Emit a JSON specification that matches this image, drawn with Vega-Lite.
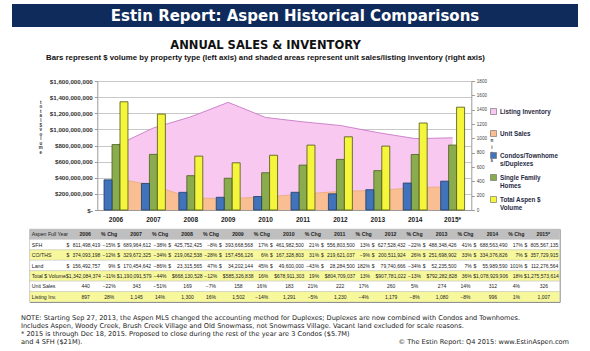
{
  "$schema": "https://vega.github.io/schema/vega-lite/v6.json",
  "background": "white",
  "padding": {"left": 12, "top": 4, "right": 12, "bottom": 2},
  "config": {"view": {"stroke": null}, "font": "Liberation Sans", "axis": {"labelFont": "Liberation Sans", "titleFont": "Liberation Sans"}},
  "datasets": {
    "aspen": [
      {"year": "2006", "metric": "sfh", "value": 811498419, "chg": null},
      {"year": "2007", "metric": "sfh", "value": 689964612, "chg": -0.15},
      {"year": "2008", "metric": "sfh", "value": 425752425, "chg": -0.38},
      {"year": "2009", "metric": "sfh", "value": 393668568, "chg": -0.08},
      {"year": "2010", "metric": "sfh", "value": 461982500, "chg": 0.17},
      {"year": "2011", "metric": "sfh", "value": 556803500, "chg": 0.21},
      {"year": "2012", "metric": "sfh", "value": 627528432, "chg": 0.13},
      {"year": "2013", "metric": "sfh", "value": 488348426, "chg": -0.22},
      {"year": "2014", "metric": "sfh", "value": 688563490, "chg": 0.41},
      {"year": "2015*", "metric": "sfh", "value": 805567135, "chg": 0.17},
      {"year": "2006", "metric": "condo", "value": 374093198, "chg": null},
      {"year": "2007", "metric": "condo", "value": 329672325, "chg": -0.12},
      {"year": "2008", "metric": "condo", "value": 219062538, "chg": -0.34},
      {"year": "2009", "metric": "condo", "value": 157456126, "chg": -0.28},
      {"year": "2010", "metric": "condo", "value": 167328803, "chg": 0.06},
      {"year": "2011", "metric": "condo", "value": 219621037, "chg": 0.31},
      {"year": "2012", "metric": "condo", "value": 200511924, "chg": -0.09},
      {"year": "2013", "metric": "condo", "value": 251698902, "chg": 0.26},
      {"year": "2014", "metric": "condo", "value": 334376826, "chg": 0.33},
      {"year": "2015*", "metric": "condo", "value": 357729915, "chg": 0.07},
      {"year": "2006", "metric": "land", "value": 156492757, "chg": null},
      {"year": "2007", "metric": "land", "value": 170454642, "chg": 0.09},
      {"year": "2008", "metric": "land", "value": 23315565, "chg": -0.86},
      {"year": "2009", "metric": "land", "value": 34202144, "chg": 0.47},
      {"year": "2010", "metric": "land", "value": 49600000, "chg": 0.45},
      {"year": "2011", "metric": "land", "value": 28284500, "chg": -0.43},
      {"year": "2012", "metric": "land", "value": 79740666, "chg": 1.82},
      {"year": "2013", "metric": "land", "value": 52235500, "chg": -0.34},
      {"year": "2014", "metric": "land", "value": 55989590, "chg": 0.07},
      {"year": "2015*", "metric": "land", "value": 112276564, "chg": 1.01},
      {"year": "2006", "metric": "total", "value": 1342084374, "chg": null},
      {"year": "2007", "metric": "total", "value": 1190091579, "chg": -0.11},
      {"year": "2008", "metric": "total", "value": 668130528, "chg": -0.44},
      {"year": "2009", "metric": "total", "value": 585326838, "chg": -0.12},
      {"year": "2010", "metric": "total", "value": 678911303, "chg": 0.16},
      {"year": "2011", "metric": "total", "value": 804709037, "chg": 0.19},
      {"year": "2012", "metric": "total", "value": 907781022, "chg": 0.13},
      {"year": "2013", "metric": "total", "value": 792282828, "chg": -0.13},
      {"year": "2014", "metric": "total", "value": 1078929906, "chg": 0.36},
      {"year": "2015*", "metric": "total", "value": 1275573614, "chg": 0.18},
      {"year": "2006", "metric": "units", "value": 440, "chg": null},
      {"year": "2007", "metric": "units", "value": 343, "chg": -0.22},
      {"year": "2008", "metric": "units", "value": 169, "chg": -0.51},
      {"year": "2009", "metric": "units", "value": 158, "chg": -0.07},
      {"year": "2010", "metric": "units", "value": 183, "chg": 0.16},
      {"year": "2011", "metric": "units", "value": 222, "chg": 0.21},
      {"year": "2012", "metric": "units", "value": 260, "chg": 0.17},
      {"year": "2013", "metric": "units", "value": 274, "chg": 0.05},
      {"year": "2014", "metric": "units", "value": 312, "chg": 0.14},
      {"year": "2015*", "metric": "units", "value": 326, "chg": 0.04},
      {"year": "2006", "metric": "listings", "value": 897, "chg": null},
      {"year": "2007", "metric": "listings", "value": 1145, "chg": 0.28},
      {"year": "2008", "metric": "listings", "value": 1300, "chg": 0.14},
      {"year": "2009", "metric": "listings", "value": 1502, "chg": 0.16},
      {"year": "2010", "metric": "listings", "value": 1291, "chg": -0.14},
      {"year": "2011", "metric": "listings", "value": 1230, "chg": -0.05},
      {"year": "2012", "metric": "listings", "value": 1179, "chg": -0.04},
      {"year": "2013", "metric": "listings", "value": 1080, "chg": -0.08},
      {"year": "2014", "metric": "listings", "value": 996, "chg": -0.08},
      {"year": "2015*", "metric": "listings", "value": 1007, "chg": 0.01}
    ],
    "rows": [
      {"metric": "hdr", "label": "Aspen Full Year"},
      {"metric": "sfh", "label": "SFH"},
      {"metric": "condo", "label": "CO/THS"},
      {"metric": "land", "label": "Land"},
      {"metric": "total", "label": "Total $ Volume"},
      {"metric": "units", "label": "Unit Sales"},
      {"metric": "listings", "label": "Listing Inv."}
    ],
    "notes": [
      {"line": 1, "side": "left", "text": "NOTE: Starting Sep 27, 2013, the Aspen MLS changed the accounting method for Duplexes; Duplexes are now combined with Condos and Townhomes."},
      {"line": 2, "side": "left", "text": "Includes Aspen, Woody Creek, Brush Creek Village and Old Snowmass, not Snowmass Village. Vacant land excluded for scale reasons."},
      {"line": 3, "side": "left", "text": "*  2015 is through Dec 18, 2015. Proposed to close during the rest of the year are 3 Condos ($5.7M)"},
      {"line": 4, "side": "left", "text": "and 4 SFH ($21M)."},
      {"line": 4, "side": "right", "text": "© The Estin Report: Q4 2015: www.EstinAspen.com"}
    ]
  },
  "spacing": 12,
  "center": true,
  "vconcat": [
    {
      "width": 566,
      "height": 23,
      "data": {"values": [{"label": "Estin Report: Aspen Historical Comparisons"}]},
      "layer": [
        {"mark": {"type": "rect", "color": "#0f2b5c"}, "encoding": {}},
        {"mark": {"type": "text", "color": "white", "font": "DejaVu Sans", "fontSize": 15, "fontWeight": "bold", "align": "center", "baseline": "middle"}, "encoding": {"text": {"field": "label"}}}
      ]
    },
    {
      "spacing": 5,
      "center": true,
      "vconcat": [
        {
          "width": 374,
          "height": 129,
          "data": {"name": "aspen"},
          "title": {
            "text": "ANNUAL SALES & INVENTORY",
            "subtitle": "Bars represent $ volume by property type (left axis) and shaded areas represent unit sales/listing inventory (right axis)",
            "font": "DejaVu Sans", "fontSize": 11.5, "fontWeight": "bold", "color": "#111",
            "subtitleFont": "Liberation Sans", "subtitleFontSize": 7.8, "subtitleFontWeight": "bold", "subtitleColor": "#111",
            "subtitlePadding": 3, "offset": 16, "anchor": "middle", "frame": "bounds"
          },
          "layer": [
            {
              "encoding": {
                "x": {"field": "year", "type": "nominal", "sort": null, "title": null, "bandPosition": 0.5, "scale": {"paddingInner": 0.36, "paddingOuter": 0.18},
                  "axis": {"title": null, "labelAngle": 0, "labelFontSize": 6.5, "labelFontWeight": "bold", "labelColor": "#222", "labelPadding": 6, "ticks": false, "domainColor": "#9a9a9a"}},
                "y": {"field": "value", "type": "quantitative", "stack": null, "scale": {"domain": [0, 1800]},
                  "axis": {"orient": "right", "values": [0, 200, 400, 600, 800, 1000, 1200, 1400, 1600, 1800], "format": "d", "grid": false, "labelFontSize": 4.6, "labelColor": "#444", "tickSize": 3, "tickColor": "#9a9a9a", "domainColor": "#9a9a9a", "labelPadding": 2, "labelFlush": false, "labelOverlap": false,
                    "title": ["u", "n", "i", "t", "s"], "titleAngle": 0, "titleAlign": "center", "titleBaseline": "top", "titleX": 20, "titleY": 50, "titleFontSize": 4.6, "titleLineHeight": 6.5, "titleFontWeight": "bold", "titleColor": "#333"}}
              },
              "layer": [
                {
                  "transform": [{"filter": "datum.metric == 'listings'"}],
                  "mark": {"type": "area", "opacity": 1},
                  "encoding": {
                    "color": {"field": "metric", "type": "nominal",
                      "scale": {"domain": ["listings", "units", "condo", "sfh", "total"], "range": ["#f8c8f0", "#f9bf92", "#4173ba", "#8aac4f", "#f5f53c"]},
                      "legend": {"title": null, "orient": "none", "legendX": 478, "legendY": 104, "symbolType": "square", "symbolSize": 36, "symbolStrokeWidth": 0.6, "symbolStrokeColor": "#666", "labelFont": "Liberation Sans", "labelFontSize": 6.3, "labelFontWeight": "bold", "labelColor": "#1f2a44", "labelOffset": 3, "rowPadding": 5, "gridAlign": "all", "padding": 0, "labelLimit": 0,
                        "labelExpr": "datum.value == 'listings' ? 'Listing Inventory' : datum.value == 'units' ? 'Unit Sales' : datum.value == 'condo' ? ['Condos/Townhome', 's/Duplexes'] : datum.value == 'sfh' ? ['Single Family', 'Homes'] : ['Total Aspen $', 'Volume']"}}
                  }
                },
                {
                  "transform": [{"filter": "datum.metric == 'listings'"}],
                  "mark": {"type": "line", "color": "#c97ac6", "strokeWidth": 0.9}
                },
                {
                  "transform": [{"filter": "datum.metric == 'units'"}],
                  "mark": {"type": "area", "opacity": 1},
                  "encoding": {
                    "color": {"field": "metric", "type": "nominal",
                      "scale": {"domain": ["listings", "units", "condo", "sfh", "total"], "range": ["#f8c8f0", "#f9bf92", "#4173ba", "#8aac4f", "#f5f53c"]},
                      "legend": {"title": null, "orient": "none", "legendX": 478, "legendY": 104, "symbolType": "square", "symbolSize": 36, "symbolStrokeWidth": 0.6, "symbolStrokeColor": "#666", "labelFont": "Liberation Sans", "labelFontSize": 6.3, "labelFontWeight": "bold", "labelColor": "#1f2a44", "labelOffset": 3, "rowPadding": 5, "gridAlign": "all", "padding": 0, "labelLimit": 0,
                        "labelExpr": "datum.value == 'listings' ? 'Listing Inventory' : datum.value == 'units' ? 'Unit Sales' : datum.value == 'condo' ? ['Condos/Townhome', 's/Duplexes'] : datum.value == 'sfh' ? ['Single Family', 'Homes'] : ['Total Aspen $', 'Volume']"}}
                  }
                },
                {
                  "transform": [{"filter": "datum.metric == 'units'"}],
                  "mark": {"type": "line", "color": "#e9a879", "strokeWidth": 0.8}
                }
              ]
            },
            {
              "transform": [{"filter": "datum.metric == 'condo' || datum.metric == 'sfh' || datum.metric == 'total'"}],
              "mark": {"type": "bar", "strokeWidth": 0.8},
              "encoding": {
                "x": {"field": "year", "type": "nominal", "sort": null, "title": null, "scale": {"paddingInner": 0.36, "paddingOuter": 0.18},
                  "axis": {"title": null, "labelAngle": 0, "labelFontSize": 6.5, "labelFontWeight": "bold", "labelColor": "#222", "labelPadding": 6, "ticks": false, "domainColor": "#9a9a9a"}},
                "xOffset": {"field": "metric", "type": "nominal", "sort": ["condo", "sfh", "total"], "scale": {"domain": ["condo", "sfh", "total"], "paddingInner": 0, "paddingOuter": 0}},
                "y": {"field": "value", "type": "quantitative", "scale": {"domain": [0, 1600000000]},
                  "axis": {"orient": "left", "values": [0, 200000000, 400000000, 600000000, 800000000, 1000000000, 1200000000, 1400000000, 1600000000],
                    "labelExpr": "datum.value == 0 ? '$-' : '$' + format(datum.value, ',')",
                    "grid": true, "gridColor": "#c8c8c8", "gridWidth": 1, "domainColor": "#9a9a9a", "tickColor": "#9a9a9a", "tickSize": 3,
                    "labelFontSize": 6.2, "labelFontWeight": "bold", "labelColor": "#333", "labelPadding": 2, "labelFlush": false, "labelOverlap": false,
                    "title": ["t", "o", "t", "a", "l", "", "", "", "", "$", "", "", "v", "o", "l", "u", "m", "e"],
                    "titleAngle": 0, "titleAlign": "center", "titleBaseline": "top", "titleX": -57, "titleY": 18, "titleFontSize": 4.5, "titleLineHeight": 4.6, "titleFontWeight": "bold", "titleColor": "#333"}},
                "color": {"field": "metric", "type": "nominal",
                  "scale": {"domain": ["listings", "units", "condo", "sfh", "total"], "range": ["#f8c8f0", "#f9bf92", "#4173ba", "#8aac4f", "#f5f53c"]},
                  "legend": {"title": null, "orient": "none", "legendX": 478, "legendY": 104, "symbolType": "square", "symbolSize": 36, "symbolStrokeWidth": 0.6, "symbolStrokeColor": "#666", "labelFont": "Liberation Sans", "labelFontSize": 6.3, "labelFontWeight": "bold", "labelColor": "#1f2a44", "labelOffset": 3, "rowPadding": 5, "gridAlign": "all", "padding": 0, "labelLimit": 0,
                    "labelExpr": "datum.value == 'listings' ? 'Listing Inventory' : datum.value == 'units' ? 'Unit Sales' : datum.value == 'condo' ? ['Condos/Townhome', 's/Duplexes'] : datum.value == 'sfh' ? ['Single Family', 'Homes'] : ['Total Aspen $', 'Volume']"}},
                "stroke": {"field": "metric", "type": "nominal", "scale": {"domain": ["condo", "sfh", "total"], "range": ["#1f3b66", "#4a6020", "#4a5512"]}, "legend": null}
              }
            }
          ],
          "resolve": {"scale": {"y": "independent"}}
        },
        {
          "spacing": 11,
          "center": true,
          "vconcat": [
            {
              "width": 530,
              "height": 73,
              "data": {"name": "aspen"},
              "view": {"stroke": "#808080", "strokeWidth": 1},
              "layer": [
                {
                  "data": {"name": "rows"},
                  "mark": {"type": "rect", "stroke": "#c4c4c4", "strokeWidth": 0.5},
                  "encoding": {
                    "y": {"field": "metric", "type": "nominal", "scale": {"domain": ["hdr", "sfh", "condo", "land", "total", "units", "listings"], "paddingInner": 0, "paddingOuter": 0}, "axis": null},
                    "fill": {"condition": [
                      {"test": "datum.metric == 'hdr'", "value": "#bfbfbf"},
                      {"test": "datum.metric == 'condo' || datum.metric == 'total' || datum.metric == 'listings'", "value": "#f7f79c"}
                    ], "value": "#ffffff"}
                  }
                },
                {
                  "data": {"name": "rows"},
                  "mark": {"type": "text", "align": "left", "baseline": "middle", "font": "Liberation Sans", "fontSize": 5.2, "color": "#222"},
                  "encoding": {
                    "x": {"datum": "2006", "type": "nominal", "bandPosition": -0.37, "scale": {"type": "band", "domain": ["2006", "2007", "2008", "2009", "2010", "2011", "2012", "2013", "2014", "2015*"], "paddingInner": 0, "paddingOuter": 0.206, "align": 1}, "axis": null},
                    "y": {"field": "metric", "type": "nominal", "axis": null},
                    "text": {"field": "label"}
                  }
                },
                {
                  "transform": [{"filter": "datum.metric == 'sfh'"}],
                  "mark": {"type": "text", "align": "center", "baseline": "middle", "font": "Liberation Sans", "fontSize": 5.2, "fontWeight": "bold", "color": "#222"},
                  "encoding": {
                    "x": {"field": "year", "type": "nominal", "sort": null, "bandPosition": 0.68, "axis": null},
                    "y": {"datum": "hdr", "type": "nominal", "axis": null},
                    "text": {"field": "year"}
                  }
                },
                {
                  "transform": [{"filter": "datum.metric == 'sfh' && datum.year != '2006'"}],
                  "mark": {"type": "text", "align": "center", "baseline": "middle", "font": "Liberation Sans", "fontSize": 5.2, "fontWeight": "bold", "color": "#222", "text": "% Chg"},
                  "encoding": {
                    "x": {"field": "year", "type": "nominal", "sort": null, "bandPosition": 0.15, "axis": null},
                    "y": {"datum": "hdr", "type": "nominal", "axis": null}
                  }
                },
                {
                  "transform": [{"filter": "datum.metric == 'sfh' || datum.metric == 'condo' || datum.metric == 'land'"}],
                  "mark": {"type": "text", "align": "left", "baseline": "middle", "font": "Liberation Sans", "fontSize": 5, "color": "#222", "text": "$"},
                  "encoding": {
                    "x": {"field": "year", "type": "nominal", "sort": null, "bandPosition": 0.31, "axis": null},
                    "y": {"field": "metric", "type": "nominal", "axis": null}
                  }
                },
                {
                  "transform": [{"filter": "datum.metric == 'sfh' || datum.metric == 'condo' || datum.metric == 'land'"}],
                  "mark": {"type": "text", "align": "right", "baseline": "middle", "font": "Liberation Sans", "fontSize": 5, "color": "#222"},
                  "encoding": {
                    "x": {"field": "year", "type": "nominal", "sort": null, "bandPosition": 0.975, "axis": null},
                    "y": {"field": "metric", "type": "nominal", "axis": null},
                    "text": {"field": "value", "type": "quantitative", "format": ",.0f"}
                  }
                },
                {
                  "transform": [{"filter": "datum.metric == 'total'"}],
                  "mark": {"type": "text", "align": "right", "baseline": "middle", "font": "Liberation Sans", "fontSize": 5, "color": "#222"},
                  "encoding": {
                    "x": {"field": "year", "type": "nominal", "sort": null, "bandPosition": 0.985, "axis": null},
                    "y": {"field": "metric", "type": "nominal", "axis": null},
                    "text": {"field": "value", "type": "quantitative", "format": "$,.0f"}
                  }
                },
                {
                  "transform": [{"filter": "(datum.metric == 'sfh' || datum.metric == 'condo' || datum.metric == 'land' || datum.metric == 'total') && datum.chg != null"}],
                  "mark": {"type": "text", "align": "right", "baseline": "middle", "font": "Liberation Sans", "fontSize": 5, "color": "#222"},
                  "encoding": {
                    "x": {"field": "year", "type": "nominal", "sort": null, "bandPosition": 0.275, "axis": null},
                    "y": {"field": "metric", "type": "nominal", "axis": null},
                    "text": {"field": "chg", "type": "quantitative", "format": ".0%"}
                  }
                },
                {
                  "transform": [{"filter": "datum.metric == 'units' || datum.metric == 'listings'"}],
                  "mark": {"type": "text", "align": "center", "baseline": "middle", "font": "Liberation Sans", "fontSize": 5, "color": "#222"},
                  "encoding": {
                    "x": {"field": "year", "type": "nominal", "sort": null, "bandPosition": 0.69, "axis": null},
                    "y": {"field": "metric", "type": "nominal", "axis": null},
                    "text": {"field": "value", "type": "quantitative", "format": ","}
                  }
                },
                {
                  "transform": [{"filter": "(datum.metric == 'units' || datum.metric == 'listings') && datum.chg != null"}],
                  "mark": {"type": "text", "align": "center", "baseline": "middle", "font": "Liberation Sans", "fontSize": 5, "color": "#222"},
                  "encoding": {
                    "x": {"field": "year", "type": "nominal", "sort": null, "bandPosition": 0.15, "axis": null},
                    "y": {"field": "metric", "type": "nominal", "axis": null},
                    "text": {"field": "chg", "type": "quantitative", "format": ".0%"}
                  }
                }
              ]
            },
            {
              "width": 548,
              "height": 32,
              "data": {"name": "notes"},
              "encoding": {
                "y": {"field": "line", "type": "ordinal", "axis": null, "scale": {"type": "point", "padding": 0.5}},
                "x": {"field": "side", "type": "nominal", "axis": null, "scale": {"type": "point", "domain": ["left", "right"], "padding": 0}},
                "text": {"field": "text"}
              },
              "layer": [
                {"transform": [{"filter": "datum.side == 'left'"}], "mark": {"type": "text", "align": "left", "baseline": "middle", "font": "DejaVu Sans", "fontSize": 6.6, "color": "#222"}},
                {"transform": [{"filter": "datum.side == 'right'"}], "mark": {"type": "text", "align": "right", "baseline": "middle", "font": "DejaVu Sans", "fontSize": 6.6, "color": "#222"}}
              ]
            }
          ]
        }
      ]
    }
  ]
}
